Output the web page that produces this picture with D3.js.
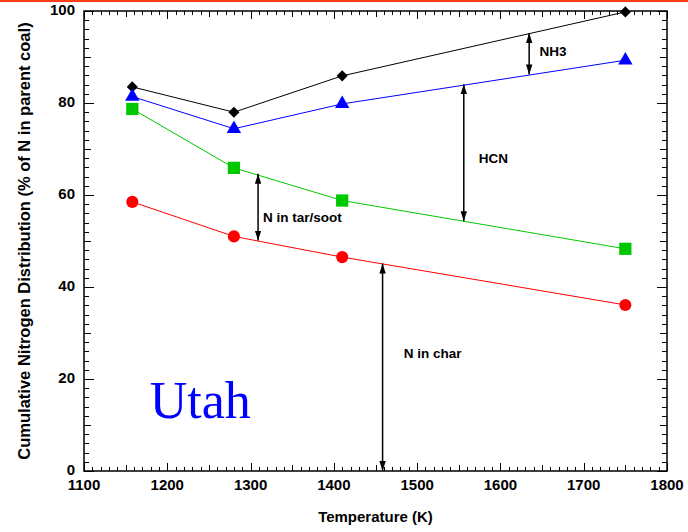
<!DOCTYPE html>
<html>
<head>
<meta charset="utf-8" />
<title>Utah nitrogen distribution</title>
<script src="https://d3js.org/d3.v7.min.js"></script>
<style>
  body { margin: 0; background: #fff; }
  svg { display: block; font-family: Arial, "Liberation Sans", sans-serif; }
  .tick-label { font-size: 15px; font-weight: bold; }
  .note { font-size: 13.5px; font-weight: bold; }
</style>
</head>
<body>
<svg id="chart" width="688" height="532"></svg>
<script>
// temperatures (K) of the four runs
const temps = [1158, 1280, 1410, 1750];

// cumulative nitrogen, % of N in parent coal
const nh3Top = [83.5, 78.0, 85.9, 99.8];
const hcnTop = [81.4, 74.4, 79.8, 89.3];
const tarTop = [78.7, 65.9, 58.8, 48.3];
const charN  = [58.5, 51.0, 46.5, 36.1];

const xTicks = [1100, 1200, 1300, 1400, 1500, 1600, 1700, 1800];
const yTicks = [0, 20, 40, 60, 80, 100];

// annotation arrows: [temperature, top value, bottom value]
const arrows = [
  [1634.5, 95.2, 86.2],
  [1556, 84.1, 54.3],
  [1309, 64.6, 50.1],
  [1458.5, 45.1, 0]
];
// annotation labels: [text, temperature, value]
const notes = [
  ["NH3", 1647, 91.3],
  ["HCN", 1574, 68.1],
  ["N in tar/soot", 1315, 55.3],
  ["N in char", 1484, 25.7]
];

const margin = { top: 11, right: 21, bottom: 61, left: 84 };
const width = 688 - margin.left - margin.right;
const height = 532 - margin.top - margin.bottom;

const svg = d3.select("#chart");

// red rule across the top of the slide
svg.append("rect")
  .attr("x", 0).attr("y", 0)
  .attr("width", 688).attr("height", 2)
  .attr("fill", "#ff3c14");

const g = svg.append("g")
  .attr("transform", `translate(${margin.left},${margin.top})`);

const x = d3.scaleLinear().domain([1100, 1800]).range([0, width]);
const y = d3.scaleLinear().domain([0, 100]).range([height, 0]);

// tick length by value
const xTickLen = (v) => (v % 100 === 0 ? 8 : v % 50 === 0 ? 6 : 4);
const yTickLen = (v) => (v % 20 === 0 ? 10 : v % 10 === 0 ? 7 : 5);

const xMinor = d3.range(1100, 1801, 10);
const yMinor = d3.range(0, 101, 2);

// inward ticks on all four sides
const ticks = g.append("g").attr("stroke", "#000").attr("stroke-width", 1);
xMinor.forEach((v) => {
  const px = Math.round(x(v)) + 0.5;
  ticks.append("line").attr("x1", px).attr("x2", px)
    .attr("y1", height).attr("y2", height - xTickLen(v));
  ticks.append("line").attr("x1", px).attr("x2", px)
    .attr("y1", 0).attr("y2", xTickLen(v));
});
yMinor.forEach((v) => {
  const py = Math.round(y(v)) + 0.5;
  ticks.append("line").attr("x1", 0).attr("x2", yTickLen(v))
    .attr("y1", py).attr("y2", py);
  ticks.append("line").attr("x1", width).attr("x2", width - yTickLen(v))
    .attr("y1", py).attr("y2", py);
});

// frame
g.append("rect")
  .attr("x", 0).attr("y", 0)
  .attr("width", width).attr("height", height)
  .attr("fill", "none").attr("stroke", "#000").attr("stroke-width", 1.5);

// tick labels
g.append("g").selectAll("text")
  .data(xTicks).enter().append("text")
  .attr("class", "tick-label")
  .attr("x", (d) => x(d)).attr("y", height + 19)
  .attr("text-anchor", "middle")
  .text((d) => d);

g.append("g").selectAll("text")
  .data(yTicks).enter().append("text")
  .attr("class", "tick-label")
  .attr("x", -9).attr("y", (d) => y(d) + 4)
  .attr("text-anchor", "end")
  .text((d) => d);

// axis titles
svg.append("text")
  .attr("x", margin.left + width / 2).attr("y", 522)
  .attr("text-anchor", "middle")
  .attr("font-size", 15).attr("font-weight", "bold")
  .text("Temperature (K)");

svg.append("text")
  .attr("transform", `translate(30,${margin.top + height / 2}) rotate(-90)`)
  .attr("text-anchor", "middle")
  .attr("font-size", 16.5).attr("font-weight", "bold")
  .text("Cumulative Nitrogen Distribution (% of N in parent coal)");

// series
const series = [
  { name: "NH3", values: nh3Top, color: "#000000", shape: d3.symbolSquare, size: 62, rotate: 45 },
  { name: "HCN", values: hcnTop, color: "#0000ff", shape: d3.symbolTriangle, size: 90, rotate: 0 },
  { name: "tar", values: tarTop, color: "#00c800", shape: d3.symbolSquare, size: 150, rotate: 0 },
  { name: "char", values: charN, color: "#ff0000", shape: d3.symbolCircle, size: 115, rotate: 0 }
];

const line = d3.line()
  .x((d, i) => x(temps[i]))
  .y((d) => y(d));

series.forEach((s) => {
  g.append("path")
    .attr("d", line(s.values))
    .attr("fill", "none")
    .attr("stroke", s.color)
    .attr("stroke-width", 1);
});

series.forEach((s) => {
  g.selectAll(null)
    .data(s.values).enter().append("path")
    .attr("transform", (d, i) => `translate(${x(temps[i])},${y(d)}) rotate(${s.rotate})`)
    .attr("d", d3.symbol().type(s.shape).size(s.size))
    .attr("fill", s.color);
});

// double-headed arrows
svg.append("defs").append("marker")
  .attr("id", "head")
  .attr("viewBox", "0 0 10 10")
  .attr("refX", 10).attr("refY", 5)
  .attr("markerWidth", 10).attr("markerHeight", 10)
  .attr("markerUnits", "userSpaceOnUse")
  .attr("orient", "auto-start-reverse")
  .append("path")
  .attr("d", "M0,1.8 L10,5 L0,8.2 Z")
  .attr("fill", "#000");

g.selectAll(".arrow")
  .data(arrows).enter().append("line")
  .attr("class", "arrow")
  .attr("x1", (d) => x(d[0])).attr("x2", (d) => x(d[0]))
  .attr("y1", (d) => y(d[1])).attr("y2", (d) => y(d[2]))
  .attr("stroke", "#000").attr("stroke-width", 1.5)
  .attr("marker-start", "url(#head)")
  .attr("marker-end", "url(#head)");

g.selectAll(".note")
  .data(notes).enter().append("text")
  .attr("class", "note")
  .attr("x", (d) => x(d[1])).attr("y", (d) => y(d[2]) + 5)
  .text((d) => d[0]);

// coal label
g.append("text")
  .attr("x", x(1179)).attr("y", y(11.6))
  .attr("font-family", "'Liberation Serif', 'Times New Roman', serif")
  .attr("font-size", 52)
  .attr("fill", "#0000ff")
  .text("Utah");
</script>
</body>
</html>
